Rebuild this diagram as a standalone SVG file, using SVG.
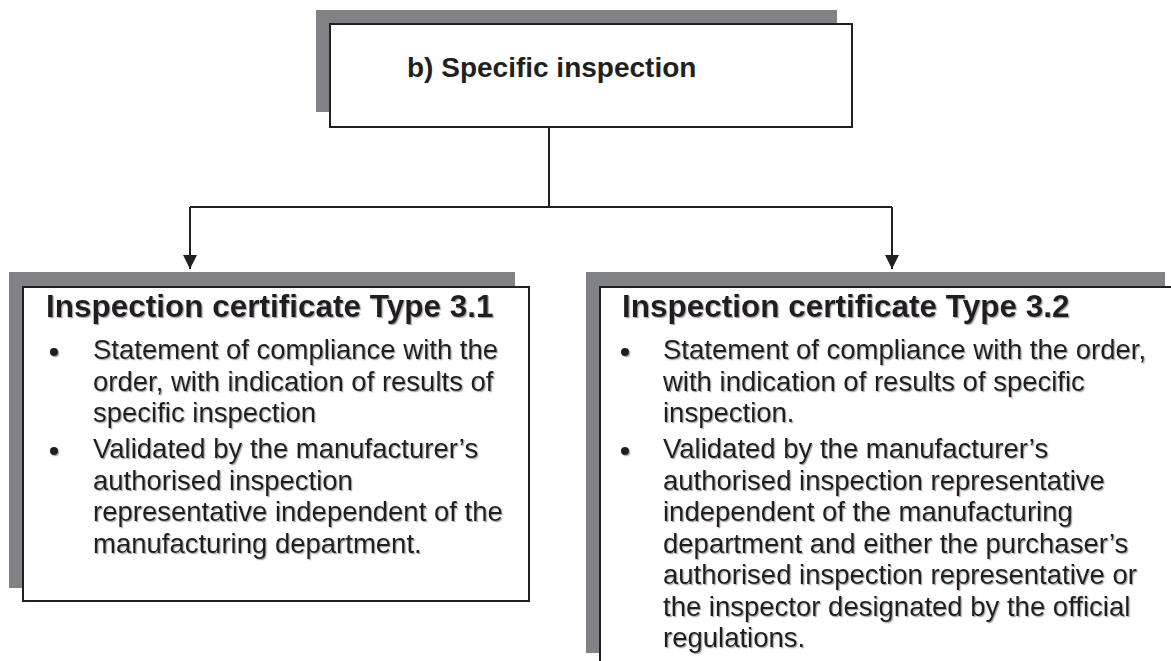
<svg xmlns="http://www.w3.org/2000/svg" width="1171" height="661" viewBox="0 0 1171 661">
<style>
.shadow{fill:#808285}
.box{fill:#fff;stroke:#231f20;stroke-width:2}
.title{font-family:"Liberation Sans",Arial,sans-serif;font-weight:bold;font-size:28px;fill:#231f20}
.head{font-family:"Liberation Sans",Arial,sans-serif;font-weight:bold;font-size:31.5px;fill:#231f20}
.body{font-family:"Liberation Sans",Arial,sans-serif;font-size:27.5px;fill:#231f20}
.bullet{fill:#231f20}
.conn{stroke:#231f20;stroke-width:2;fill:none}
</style>
<defs>
<filter id="ts" x="-5%" y="-20%" width="110%" height="140%">
<feDropShadow dx="1.2" dy="1.2" stdDeviation="0.6" flood-color="#808285" flood-opacity="0.7"/>
</filter>
<marker id="arrow" viewBox="0 0 14 14" refX="14" refY="7" markerWidth="14" markerHeight="14" markerUnits="userSpaceOnUse" orient="auto">
<path d="M0,0 L14,7 L0,14 Z" fill="#231f20"/>
</marker>
</defs>

<g id="connectors">
<path class="conn" d="M549,127 V207"/>
<path class="conn" d="M190,207 H892"/>
<path class="conn" d="M190,207 V269" marker-end="url(#arrow)"/>
<path class="conn" d="M892,207 V269" marker-end="url(#arrow)"/>
</g>

<g id="node-specific">
<rect class="shadow" x="316" y="10" width="521" height="102"/>
<rect class="box" x="330" y="24" width="522" height="103"/>
<text class="title" x="407" y="77">b) Specific inspection</text>
</g>

<g id="node-type31">
<rect class="shadow" x="9" y="272" width="506" height="316"/>
<rect class="box" x="23" y="287" width="506" height="314"/>
<g filter="url(#ts)">
<text class="head" x="46" y="317">Inspection certificate Type 3.1</text>
<circle class="bullet" cx="54" cy="352" r="4"/>
<text class="body" x="93" y="359">Statement of compliance with the</text>
<text class="body" x="93" y="390.5">order, with indication of results of</text>
<text class="body" x="93" y="422">specific inspection</text>
<circle class="bullet" cx="54" cy="451" r="4"/>
<text class="body" x="93" y="458">Validated by the manufacturer’s</text>
<text class="body" x="93" y="489.5">authorised inspection</text>
<text class="body" x="93" y="521">representative independent of the</text>
<text class="body" x="93" y="552.5">manufacturing department.</text>
</g>
</g>

<g id="node-type32">
<rect class="shadow" x="586" y="272" width="579" height="381"/>
<rect class="box" x="600" y="287" width="580" height="390"/>
<g filter="url(#ts)">
<text class="head" x="622" y="317">Inspection certificate Type 3.2</text>
<circle class="bullet" cx="625" cy="352" r="4"/>
<text class="body" x="663" y="359">Statement of compliance with the order,</text>
<text class="body" x="663" y="390.5">with indication of results of specific</text>
<text class="body" x="663" y="422">inspection.</text>
<circle class="bullet" cx="625" cy="451" r="4"/>
<text class="body" x="663" y="458">Validated by the manufacturer’s</text>
<text class="body" x="663" y="489.5">authorised inspection representative</text>
<text class="body" x="663" y="521">independent of the manufacturing</text>
<text class="body" x="663" y="552.5">department and either the purchaser’s</text>
<text class="body" x="663" y="584">authorised inspection representative or</text>
<text class="body" x="663" y="615.5">the inspector designated by the official</text>
<text class="body" x="663" y="647">regulations.</text>
</g>
</g>
</svg>
